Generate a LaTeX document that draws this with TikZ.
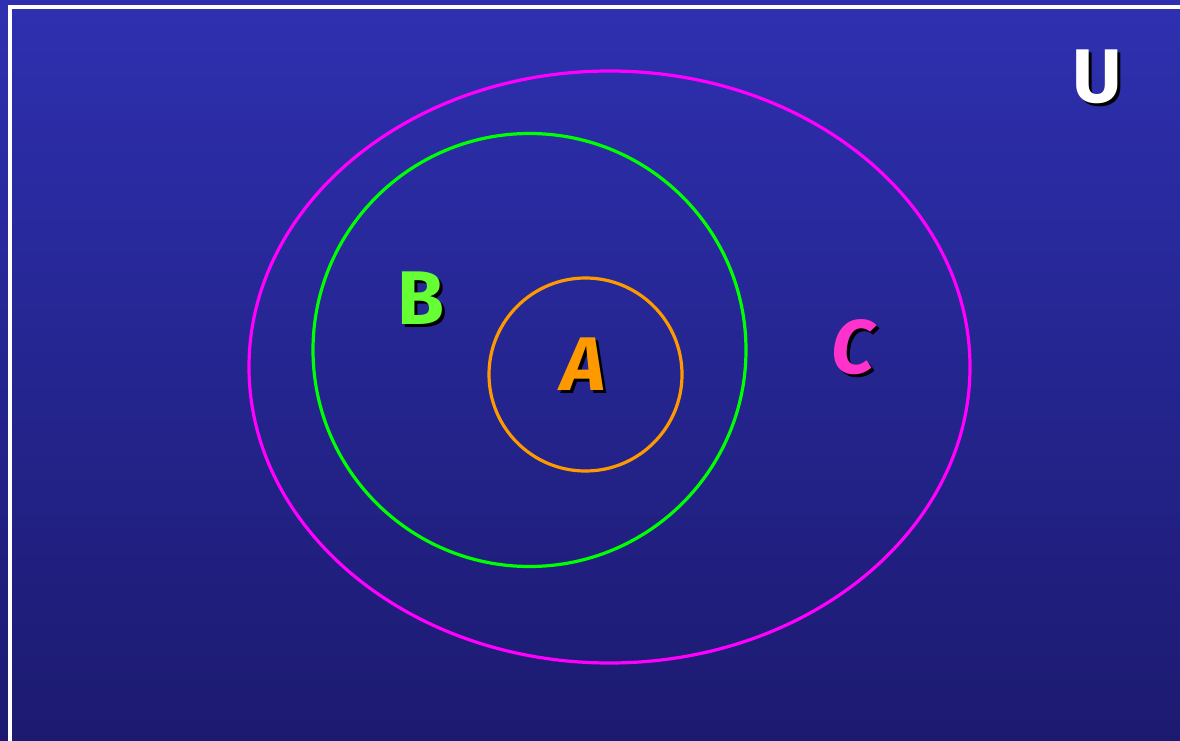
\documentclass[tikz,border=0pt]{standalone}
\usepackage{fontspec}
\setmainfont{Fira Sans}
\usepackage{tikz}
\usetikzlibrary{shapes.geometric,positioning}
\definecolor{vnbgtop}{HTML}{2E30B0}
\definecolor{vnbgbot}{HTML}{1C1A70}
\definecolor{vnmag}{HTML}{FF00FF}
\definecolor{vngreen}{HTML}{00FF00}
\definecolor{vnorange}{HTML}{FF9900}
\definecolor{vnlgreen}{HTML}{66FF33}
\definecolor{vnpink}{HTML}{FF33CC}
\tikzset{
  setline/.style={draw,line width=3.2pt,inner sep=0pt,outer sep=0pt},
  letter/.style={font=\fontsize{76}{80}\selectfont\bfseries,inner sep=0pt},
}
% letter with a black drop shadow, in one node
\newcommand\vnlabel[4]{%
  \node[letter,text=#3] (#1) at (#2)
    {\rlap{\kern3pt\raisebox{-3pt}{\color{black}#4}}#4};}
\begin{document}
\begin{tikzpicture}[x=1pt,y=-1pt]
  \useasboundingbox (0,0) rectangle (1180,741);
  \shade[top color=vnbgtop,bottom color=vnbgbot] (0,0) rectangle (1180,741);
  \draw[white,line width=4pt] (10,745) |- (1185,7);
  % the three sets
  \node[setline,draw=vnmag,ellipse,minimum width=721pt,minimum height=592pt] (setC) at (609.5,367) {};
  \node[setline,draw=vngreen,circle,minimum size=433pt] (setB) at (529.5,350) {};
  \node[setline,draw=vnorange,circle,minimum size=193pt] (setA) at (585.5,374.5) {};
  % labels
  \vnlabel{labU}{1097,78}{white}{U}
  \vnlabel{labB}{421,300}{vnlgreen}{B}
  \vnlabel{labA}{584,366}{vnorange}{\itshape A}
  \vnlabel{labC}{853,349}{vnpink}{\itshape C}
\end{tikzpicture}
\end{document}
